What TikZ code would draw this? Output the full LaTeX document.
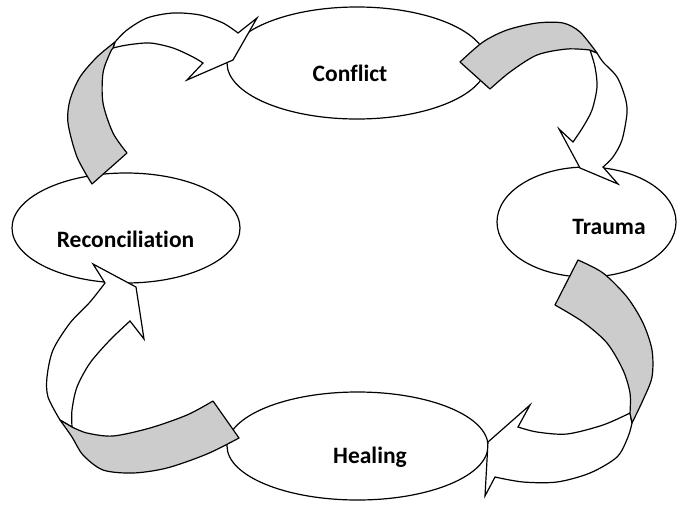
\documentclass[tikz,border=0pt]{standalone}
\usepackage{fontspec}
\setmainfont{Carlito}[Ligatures=CommonOff]
\usetikzlibrary{shapes.geometric}
\definecolor{foldgray}{RGB}{204,204,204}
\begin{document}
\begin{tikzpicture}[x=1pt,y=-1pt,
  ell/.style={draw, ellipse, line width=1.2pt, fill=white, inner sep=0pt},
  lbl/.style={font=\fontsize{23.5}{28}\selectfont\bfseries, anchor=base, inner sep=0pt},
  foldpart/.style={draw, fill=foldgray, line width=1.2pt, line join=round},
  frontpart/.style={draw, fill=white, line width=1.2pt, line join=miter}]
\useasboundingbox (0,0) rectangle (700,506);
% ellipses
\node[ell, minimum width=260pt, minimum height=112pt] (conflict) at (357,63) {};
\node[ell, minimum width=179pt, minimum height=110pt] (trauma) at (586.5,222) {};
\node[ell, minimum width=228pt, minimum height=110pt] (recon) at (126,228) {};
\node[ell, minimum width=261pt, minimum height=108pt] (healing) at (357.5,446) {};
% arrow 1: Conflict -> Trauma
\path[frontpart] (597,53) -- plot[smooth] coordinates {(597,53) (603,62) (617,77) (625,97) (627,113) (622,140) (613,157) (603,167)}
  -- (618,184) -- (580,168) -- (559,129)
  -- plot[smooth] coordinates {(573,142) (583,127) (592,110) (597,87) (595,67) (590,50)} -- cycle;
\path[foldpart] (460,62) -- plot[smooth] coordinates {(460,62) (483,42) (507,30) (537,23) (563,23) (580,32) (597,53)}
  -- plot[smooth] coordinates {(590,50) (567,49) (537,55) (510,72) (490,89)} -- cycle;
% arrow 2: Trauma -> Healing
\path[frontpart] (632,423) -- plot[smooth] coordinates {(632,423) (628,437) (617,457) (590,473) (557,482) (523,482) (495,477)}
  -- (485,496) -- (488,442) -- (530,405)
  -- plot[smooth] coordinates {(518,427) (537,432) (567,434) (603,425) (630,413)} -- cycle;
\path[foldpart] (578,260) -- plot[smooth] coordinates {(578,260) (603,273) (627,297) (643,323) (652,350) (652,377) (643,400) (632,423)}
  -- plot[smooth] coordinates {(630,413) (630,393) (623,370) (607,343) (583,322) (555,305)} -- cycle;
% arrow 3: Healing -> Reconciliation
\path[frontpart] (60,420) -- plot[smooth] coordinates {(60,420) (48,397) (47,377) (53,350) (70,323) (90,302) (105,283)}
  -- (93,264) -- (136,287) -- (144,339)
  -- plot[smooth] coordinates {(130,321) (110,340) (90,363) (77,387) (72,410) (72,427)} -- cycle;
\path[foldpart] (213,401) -- plot[smooth] coordinates {(213,401) (187,415) (150,428) (113,436) (87,433) (72,427)}
  -- plot[smooth] coordinates {(60,420) (72,437) (83,455) (103,470) (133,473) (167,468) (207,454) (239,438)} -- cycle;
% arrow 4: Reconciliation -> Conflict
\path[frontpart] (115,42) -- plot[smooth] coordinates {(115,42) (127,30) (147,18) (173,13) (200,15) (223,23) (238,33)}
  -- (257,18) -- (233,60) -- (187,80)
  -- plot[smooth] coordinates {(203,63) (193,57) (173,48) (150,43) (127,45) (113,48)} -- cycle;
\path[foldpart] (92,184) -- plot[smooth] coordinates {(92,184) (77,157) (68,123) (70,100) (80,77) (97,57) (115,42)}
  -- plot[smooth] coordinates {(113,48) (110,53) (103,73) (103,103) (113,133) (127,153)} -- cycle;
% labels
\node[lbl] (conflictText) at (350,81) {Conflict};
\node[lbl] (traumaText) at (609,234) {Trauma};
\node[lbl] (healingText) at (370,463) {Healing};
\node[lbl] (reconText) at (125.5,247) {Reconciliation};
\end{tikzpicture}
\end{document}
